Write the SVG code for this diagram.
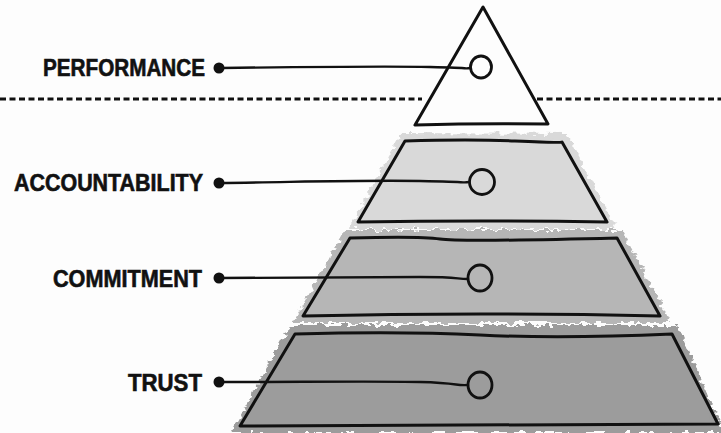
<svg xmlns="http://www.w3.org/2000/svg" width="721" height="433" viewBox="0 0 721 433">
  <defs>
    <filter id="rough" x="-10%" y="-30%" width="120%" height="160%">
      <feTurbulence type="fractalNoise" baseFrequency="0.12 0.2" numOctaves="2" seed="7" result="n"/>
      <feDisplacementMap in="SourceGraphic" in2="n" scale="10" xChannelSelector="R" yChannelSelector="G"/>
    </filter>
    <style>
      .ink { fill: none; stroke: #111; stroke-width: 3; stroke-linejoin: round; stroke-linecap: round; }
      .lead { fill: none; stroke: #111; stroke-width: 2.4; stroke-linecap: round; }
      .ring { fill: none; stroke: #111; stroke-width: 2.8; }
      .dot { fill: #111; }
      .label { font-family: "Liberation Sans", "DejaVu Sans", sans-serif; font-weight: bold; font-size: 23px; fill: #111; stroke: #111; stroke-width: 0.6; text-anchor: end; }
      .cut { fill: none; stroke: #111; stroke-width: 3; stroke-dasharray: 6 3.5; }
    </style>
  </defs>

  <rect width="721" height="433" fill="#fdfdfd"/>

  <!-- dividing line behind the top triangle -->
  <g id="divider">
    <line class="cut" x1="0" y1="99" x2="422" y2="99"/>
    <line class="cut" x1="537" y1="99" x2="721" y2="99"/>
  </g>

  <!-- top tier: triangle -->
  <g id="tier-performance">
    <path class="ink" d="M483,7 L415,125 Q480,123 548,124 Z" fill="#fff"/>
    <ellipse class="ring" cx="481" cy="67" rx="10.5" ry="11"/>
    <circle class="dot" cx="219" cy="68" r="5.5"/>
    <text class="label" x="205" y="76" textLength="162" lengthAdjust="spacingAndGlyphs">PERFORMANCE</text>
  </g>

  <!-- second tier -->
  <g id="tier-accountability">
    <path d="M403,136 L565,137 L612,226 L354,226 Z" fill="#d9d9d9" stroke="#d9d9d9" stroke-width="6" filter="url(#rough)"/>
    <path class="ink" d="M405,141 Q470,139 515,141 T562,142 L607,222 Q480,220 358,222 Z" fill="#d1d1d1"/>
    <ellipse class="ring" cx="482" cy="182" rx="12.5" ry="12.5" fill="#d1d1d1"/>
    <circle class="dot" cx="219" cy="183" r="5.5"/>
    <text class="label" x="203" y="191" textLength="189" lengthAdjust="spacingAndGlyphs">ACCOUNTABILITY</text>
  </g>

  <!-- third tier -->
  <g id="tier-commitment">
    <path d="M347,233 L620,233 L666,320 L298,320 Z" fill="#b6b6b6" stroke="#b6b6b6" stroke-width="6" filter="url(#rough)"/>
    <path class="ink" d="M350,238 Q420,236 440,239 T617,238 L660,316 Q480,312 303,316 Z" fill="#b8b8b8"/>
    <ellipse class="ring" cx="480" cy="278" rx="12" ry="13" fill="#b8b8b8"/>
    <circle class="dot" cx="219" cy="278" r="5.5"/>
    <text class="label" x="202" y="287" textLength="149" lengthAdjust="spacingAndGlyphs">COMMITMENT</text>
  </g>

  <!-- bottom tier -->
  <g id="tier-trust">
    <path d="M292,328 L676,328 L719,430 L236,430 Z" fill="#9c9c9c" stroke="#9c9c9c" stroke-width="6" filter="url(#rough)"/>
    <path class="ink" d="M295,334 Q400,331 480,335 T672,334 L718,424 Q480,425 240,426 Z" fill="#9c9c9c"/>
    <ellipse class="ring" cx="480" cy="385" rx="12" ry="13" fill="#9c9c9c"/>
    <circle class="dot" cx="219" cy="382" r="5.5"/>
    <text class="label" x="202" y="391" textLength="74" lengthAdjust="spacingAndGlyphs">TRUST</text>
  </g>

  <!-- leader lines from each label dot to its tier marker -->
  <g id="connectors">
    <path class="lead" d="M219,68 C300,67 380,66 430,67 S460,69 470,68"/>
    <path class="lead" d="M219,183 C300,182 360,180 420,181 S455,183 469,182"/>
    <path class="lead" d="M219,278 C300,278 380,277 420,277 S455,279 468,279"/>
    <path class="lead" d="M219,382 C300,382 380,381 420,382 S455,386 468,385"/>
  </g>
</svg>
